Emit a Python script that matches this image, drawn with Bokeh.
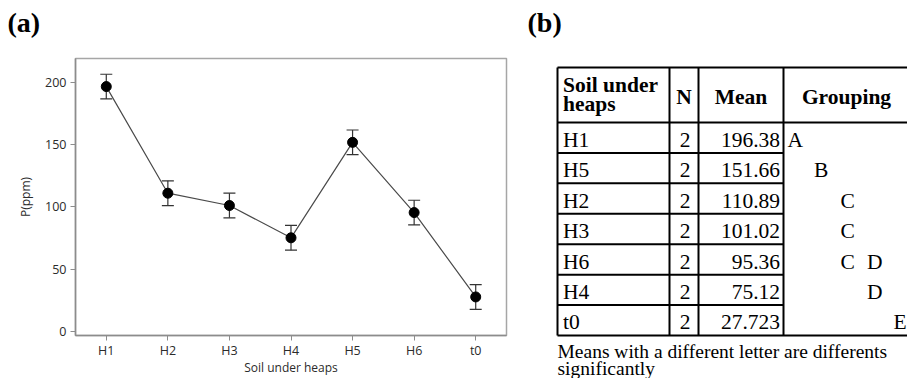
from bokeh.plotting import figure
from bokeh.models import Range1d, FixedTicker, Whisker, ColumnDataSource, TeeHead
from bokeh.core.properties import value
from bokeh.embed import file_html
from bokeh.resources import INLINE

# ---- data -------------------------------------------------------------
groups = ["H1", "H2", "H3", "H4", "H5", "H6", "t0"]
mean_p = [196.38, 110.89, 101.02, 75.12, 151.66, 95.36, 27.723]
err_p = [9.9, 9.9, 9.9, 9.9, 9.9, 9.9, 9.9]
n_obs = [2, 2, 2, 2, 2, 2, 2]
grouping = {"H1": "A", "H5": "B", "H2": "C", "H3": "C", "H6": "C D", "H4": "D", "t0": "E"}
y_ticks = [0, 50, 100, 150, 200]

SANS = "Open Sans"
SERIF = "Liberation Serif"
PAGE_W, PAGE_H = 907, 378

# ---- page layer: panel letters and the grouping table (page pixels, y down)
page = figure(width=PAGE_W, height=PAGE_H, x_range=Range1d(0, PAGE_W),
              y_range=Range1d(PAGE_H, 0), x_axis_type=None, y_axis_type=None,
              output_backend="svg", toolbar_location=None, min_border=0)
page.grid.visible = False
page.outline_line_color = None

letter = dict(text_font=value(SERIF), text_font_size=value("28px"),
              text_font_style="bold", text_baseline="middle", text_align="left",
              text_color="black")
page.text([7, 527], [21.7, 21.7], text=["(a)", "(b)"], **letter)

order = sorted(groups, key=lambda g: -mean_p[groups.index(g)])
rows_soil = order
rows_n = [str(n_obs[groups.index(g)]) for g in order]
rows_mean = [str(mean_p[groups.index(g)]) for g in order]

L, C1, C2, C3, R = 557, 669, 698, 783, 909
T, HB, B = 67, 122, 335
nrow = len(rows_soil)
rh = (B - HB) / nrow
row_tops = [HB + i * rh for i in range(nrow)]

x0, y0, x1, y1 = [], [], [], []
for yy in (T, HB, B):
    x0.append(L); x1.append(R); y0.append(yy); y1.append(yy)
for yy in row_tops[1:]:
    x0.append(L); x1.append(C3); y0.append(yy); y1.append(yy)
for xx in (L, C1, C2, C3):
    x0.append(xx); x1.append(xx); y0.append(T); y1.append(B)
page.segment(x0, y0, x1, y1, line_color="black", line_width=2)

body = dict(text_font=value(SERIF), text_font_size=value("21.5px"), text_color="black",
            text_baseline="middle")
head = dict(body, text_font_style="bold")

page.text([562.5, 562.5], [84.5, 103.5], text=["Soil under", "heaps"], text_align="left", **head)
page.text([(C1 + C2) / 2, (C2 + C3) / 2, (C3 + R) / 2], [96, 96, 96],
          text=["N", "Mean", "Grouping"], text_align="center", **head)

mid = [t + 17.3 for t in row_tops]
page.text([562.5] * nrow, mid, text=rows_soil, text_align="left", **body)
page.text([C2 - 8] * nrow, mid, text=rows_n, text_align="right", **body)
page.text([C3 - 3.5] * nrow, mid, text=rows_mean, text_align="right", **body)

gx, gy, gt = [], [], []
for g, ym in zip(rows_soil, mid):
    for ch in grouping[g].split():
        gx.append(787 + (ord(ch) - ord("A")) * 26.5)
        gy.append(ym)
        gt.append(ch)
page.text(gx, gy, text=gt, text_align="left", **body)

foot = dict(body, text_font_size=value("19.5px"))
page.text([L, L], [350.5, 367.5],
          text=["Means with a different letter are differents", "significantly"],
          text_align="left", **foot)

# ---- (a) mean P by soil with error bars (drawn over the page layer) -----
p1 = figure(width=520, height=PAGE_H, x_range=groups, y_range=Range1d(-3.2, 218.9),
            output_backend="svg", toolbar_location=None,
            min_border_left=75, min_border_right=14, min_border_top=58, min_border_bottom=41)
p1.background_fill_color = None
p1.border_fill_color = None

src = ColumnDataSource(dict(
    x=groups, y=mean_p,
    upper=[m + e for m, e in zip(mean_p, err_p)],
    lower=[m - e for m, e in zip(mean_p, err_p)],
))
p1.line("x", "y", source=src, line_color="#4a4a4a", line_width=1.2)
whisk = Whisker(base="x", upper="upper", lower="lower", source=src,
                line_color="#333333", line_width=1.2,
                upper_head=TeeHead(size=12, line_color="#333333", line_width=1.2),
                lower_head=TeeHead(size=12, line_color="#333333", line_width=1.2))
p1.add_layout(whisk)
p1.scatter("x", "y", source=src, size=10, fill_color="black", line_color="black")

p1.grid.visible = False
p1.outline_line_color = "#a6a6a6"
p1.outline_line_width = 1.5
p1.yaxis.ticker = FixedTicker(ticks=y_ticks)
p1.yaxis.minor_tick_line_color = None
p1.xaxis.axis_label = "Soil under heaps"
p1.yaxis.axis_label = "P(ppm)"
for ax in (p1.xaxis, p1.yaxis):
    ax.axis_line_color = "#8c8c8c"
    ax.axis_line_width = 1.5
    ax.major_tick_line_color = "#8c8c8c"
    ax.major_tick_out = 5
    ax.major_tick_in = 0
    ax.major_label_text_font = SANS
    ax.major_label_text_font_size = "12.5px"
    ax.major_label_text_color = "#2b2b2b"
    ax.axis_label_text_font = SANS
    ax.axis_label_text_font_size = "12px"
    ax.axis_label_text_font_style = "normal"
    ax.axis_label_text_color = "#2b2b2b"
p1.xaxis.major_label_standoff = 1
p1.xaxis.axis_label_standoff = -3
p1.yaxis.major_label_standoff = 4
p1.yaxis.axis_label_standoff = 8

# both roots share the page origin; the chart sits on top of the page layer
TEMPLATE = """
{% block contents %}
{% for doc in docs %}{% for root in doc.roots %}
<div style="position: absolute; left: 0; top: 0;"><div id="{{ root.elementid }}" data-root-id="{{ root.id }}" style="display: contents;"></div></div>
{% endfor %}{% endfor %}
{% endblock %}
"""

open("out.html", "w").write(file_html([page, p1], INLINE, template=TEMPLATE))
